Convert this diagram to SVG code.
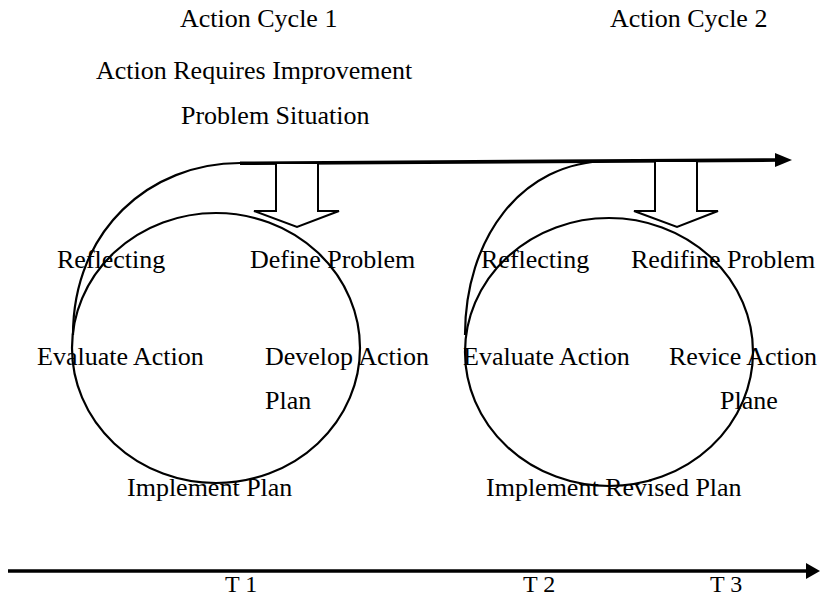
<svg xmlns="http://www.w3.org/2000/svg" width="826" height="597" viewBox="0 0 826 597">
<defs>
<style>
text{font-family:"Liberation Serif","Times New Roman",serif;font-size:26px;fill:#000}
.t{font-size:24px}
.c{fill:none;stroke:#000;stroke-width:2.2}
.blk{fill:#fff;stroke:#000;stroke-width:2}
.thick{fill:none;stroke:#000;stroke-width:3.6}
</style>
</defs>
<rect width="826" height="597" fill="#fff"/>
<g id="headers">
<text x="180" y="27">Action Cycle 1</text>
<text x="96" y="79">Action Requires Improvement</text>
<text x="181" y="124">Problem Situation</text>
<text x="610" y="27">Action Cycle 2</text>
</g>
<g id="connectors">
<path class="c" d="M73,335 C73,230 150,163 240,163"/>
<path class="c" d="M465,335 C465,240 520,161 610,161"/>
<line class="thick" x1="240" y1="163.3" x2="778" y2="160"/>
<polygon points="775,153 792,160 775,167" fill="#000"/>
<line class="thick" x1="8" y1="571" x2="808" y2="571"/>
<polygon points="806,563 820,571 806,579" fill="#000"/>
</g>
<g id="cycle1">
<ellipse class="c" cx="216" cy="348" rx="144" ry="135"/>
</g>
<g id="cycle2">
<ellipse class="c" cx="609" cy="352" rx="144" ry="134"/>
</g>
<g id="arrow1">
<polygon class="blk" points="276,163 318,163 318,211 339,211 297,227 254,211 276,211"/>
</g>
<g id="arrow2">
<polygon class="blk" points="655,161 697,161 697,211 718,211 677,227 634,211 655,211"/>
</g>
<g id="labels1">
<text x="57" y="268">Reflecting</text>
<text x="250" y="268">Define Problem</text>
<text x="37" y="365">Evaluate Action</text>
<text x="265" y="365">Develop Action</text>
<text x="265" y="409">Plan</text>
<text x="127" y="496">Implement Plan</text>
</g>
<g id="labels2">
<text x="481" y="268">Reflecting</text>
<text x="631" y="268">Redifine Problem</text>
<text x="463" y="365">Evaluate Action</text>
<text x="669" y="365">Revice Action</text>
<text x="720" y="409">Plane</text>
<text x="486" y="496">Implement Revised Plan</text>
</g>
<g id="timeline">
<text class="t" x="225" y="592">T 1</text>
<text class="t" x="523" y="592">T 2</text>
<text class="t" x="710" y="592">T 3</text>
</g>
</svg>
